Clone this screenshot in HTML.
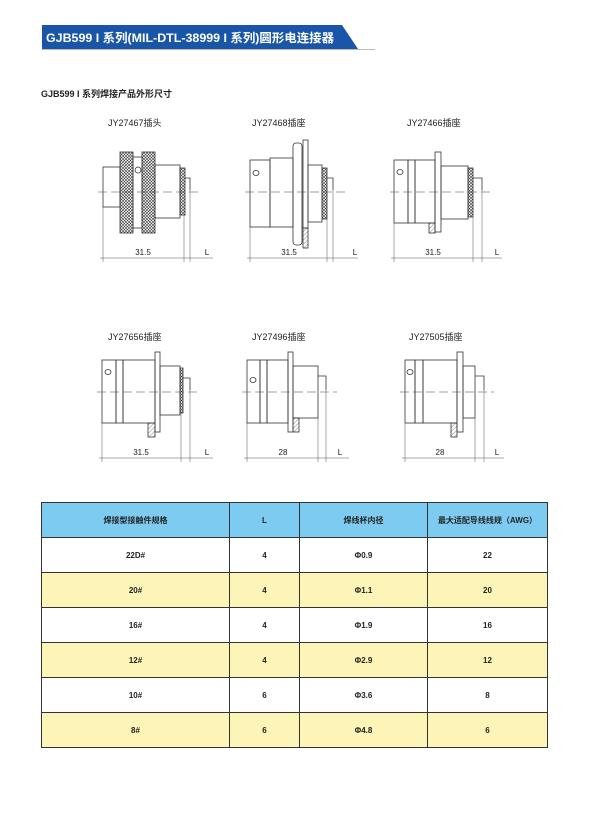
<!DOCTYPE html>
<html><head><meta charset="utf-8"><style>
body{margin:0;background:#fff;}
.w{position:relative;width:613px;height:825px;overflow:hidden;font-family:"Liberation Sans","Noto Sans CJK SC",sans-serif;}
table{position:absolute;left:41px;top:502px;border-collapse:collapse;width:507px;font-size:8px;font-weight:bold;color:#222;}
td{border:1.2px solid #333;text-align:center;height:34px;padding:0;}
tr.h td{background:#7ecbf2;}
tr.y td{background:#fdf4b8;}
</style></head><body><div class="w">
<svg width="613" height="825" style="position:absolute;left:0;top:0" font-family="Liberation Sans, Noto Sans CJK SC, sans-serif">
<defs>
<pattern id="x" width="3" height="3" patternUnits="userSpaceOnUse"><path d="M0 0L3 3M3 0L0 3" stroke="#333" stroke-width="0.6"/></pattern>
<pattern id="hh" width="3" height="3" patternUnits="userSpaceOnUse" patternTransform="rotate(45)"><line x1="0" y1="0" x2="0" y2="3" stroke="#555" stroke-width="0.7"/></pattern>
</defs>
<polygon points="42,25 342,25 358,49 42,49" fill="#1a56a8"/>
<line x1="42" y1="49.5" x2="375" y2="49.5" stroke="#bbb"/>
<text x="46" y="42" font-size="12" font-weight="bold" fill="#fff" textLength="288" lengthAdjust="spacingAndGlyphs">GJB599 I 系列(MIL-DTL-38999 I 系列)圆形电连接器</text>
<text x="41" y="97" font-size="9" font-weight="bold" fill="#222">GJB599 I 系列焊接产品外形尺寸</text>
<g font-size="9" fill="#222">
<text x="108" y="126">JY27467插头</text><text x="252" y="126">JY27468插座</text><text x="407" y="126">JY27466插座</text>
<text x="108" y="340">JY27656插座</text><text x="252" y="340">JY27496插座</text><text x="409" y="340">JY27505插座</text>
</g>
<g fill="none" stroke="#333" stroke-width="0.8">
<rect x="103" y="167" width="17" height="40"/><rect x="120" y="152" width="13" height="81" fill="url(#x)"/>
<rect x="133" y="157" width="9" height="71"/><rect x="142" y="152" width="13" height="81" fill="url(#x)"/>
<rect x="155" y="165" width="25" height="53"/><rect x="180" y="168" width="5" height="47" fill="url(#x)"/>
<path d="M185 178H190V190"/><circle cx="138" cy="170" r="3"/>
<rect x="250" y="160" width="20" height="67"/><rect x="270" y="158" width="23" height="69"/>
<rect x="293" y="143" width="9" height="102" rx="3"/><rect x="303" y="140" width="5" height="88"/>
<rect x="303" y="228" width="5" height="20" fill="url(#hh)"/>
<rect x="308" y="165" width="14" height="57"/><rect x="322" y="168" width="5" height="51" fill="url(#x)"/>
<path d="M327 178H333V190"/><ellipse cx="256" cy="173" rx="3" ry="2.5"/>
<rect x="394" y="160" width="14" height="63"/><rect x="408" y="160" width="7" height="63"/><rect x="415" y="160" width="20" height="63"/>
<rect x="435" y="152" width="6" height="80"/><rect x="429" y="223" width="6" height="10" fill="url(#hh)"/>
<rect x="441" y="166" width="27" height="53"/><rect x="468" y="168" width="5" height="49" fill="url(#x)"/>
<path d="M473 178H482V190"/><ellipse cx="400" cy="172" rx="3" ry="2.5"/>
<rect x="102" y="360" width="14" height="63"/><rect x="116" y="360" width="7" height="63"/><rect x="123" y="360" width="32" height="63"/>
<rect x="155" y="352" width="5" height="80"/><rect x="148" y="423" width="7" height="14" fill="url(#hh)"/>
<rect x="160" y="366" width="20" height="49"/><rect x="180" y="368" width="3" height="45" fill="url(#x)"/>
<path d="M183 378H190V390"/><ellipse cx="108" cy="372" rx="3" ry="2.5"/>
<rect x="247" y="360" width="13" height="63"/><rect x="260" y="360" width="7" height="63"/><rect x="267" y="360" width="21" height="63"/>
<rect x="288" y="352" width="5" height="80"/><rect x="293" y="418" width="6" height="14" fill="url(#hh)"/>
<rect x="293" y="366" width="25" height="52"/><path d="M318 376H326V390"/><ellipse cx="253" cy="380" rx="3" ry="2.5"/>
<rect x="405" y="360" width="10" height="63"/><rect x="415" y="360" width="8" height="63"/><rect x="423" y="360" width="34" height="63"/>
<rect x="457" y="352" width="6" height="80"/><rect x="451" y="423" width="6" height="14" fill="url(#hh)"/>
<rect x="463" y="366" width="12" height="52"/><path d="M475 376H484V390"/><ellipse cx="410" cy="372" rx="3" ry="2.5"/>
</g>
<g stroke="#444" stroke-width="0.6" stroke-dasharray="9,4" fill="none">
<line x1="98" y1="192" x2="202" y2="192"/><line x1="245" y1="192" x2="345" y2="192"/><line x1="390" y1="192" x2="490" y2="192"/>
<line x1="97" y1="392" x2="200" y2="392"/><line x1="242" y1="392" x2="337" y2="392"/><line x1="400" y1="392" x2="494" y2="392"/>
</g>
<g stroke="#555" stroke-width="0.5" fill="none">
<path d="M103 207V262M184 215V262M190 190V262M100 258H213"/>
<path d="M250 227V262M327 219V262M333 190V262M247 258H358"/>
<path d="M394 223V262M473 217V262M482 190V262M391 258H502"/>
<path d="M102 423V462M181 413V462M190 390V462M99 458H213"/>
<path d="M247 423V462M318 418V462M326 390V462M244 458H349"/>
<path d="M405 423V462M475 418V462M484 390V462M402 458H504"/>
</g>
<g font-size="8" fill="#222" text-anchor="middle">
<text x="143" y="255">31.5</text><text x="207" y="255">L</text>
<text x="289" y="255">31.5</text><text x="355" y="255">L</text>
<text x="433" y="255">31.5</text><text x="497" y="255">L</text>
<text x="141" y="455">31.5</text><text x="207" y="455">L</text>
<text x="283" y="455">28</text><text x="340" y="455">L</text>
<text x="440" y="455">28</text><text x="497" y="455">L</text>
</g>
</svg>
<table>
<colgroup><col style="width:188px"><col style="width:70px"><col style="width:128px"><col></colgroup>
<tr class="h"><td>焊接型接触件规格</td><td>L</td><td>焊线杯内径</td><td>最大适配导线线规（AWG）</td></tr>
<tr><td>22D#</td><td>4</td><td>Φ0.9</td><td>22</td></tr>
<tr class="y"><td>20#</td><td>4</td><td>Φ1.1</td><td>20</td></tr>
<tr><td>16#</td><td>4</td><td>Φ1.9</td><td>16</td></tr>
<tr class="y"><td>12#</td><td>4</td><td>Φ2.9</td><td>12</td></tr>
<tr><td>10#</td><td>6</td><td>Φ3.6</td><td>8</td></tr>
<tr class="y"><td>8#</td><td>6</td><td>Φ4.8</td><td>6</td></tr>
</table>
</div></body></html>
